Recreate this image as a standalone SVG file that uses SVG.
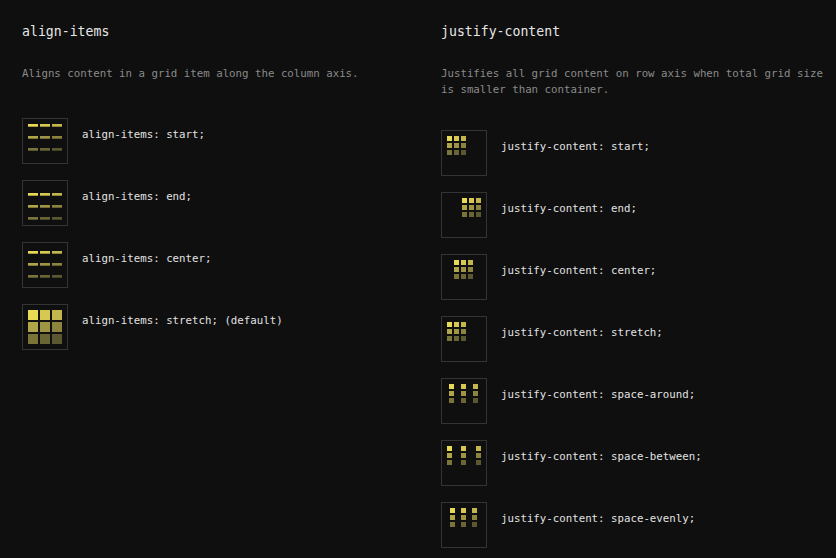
<svg xmlns="http://www.w3.org/2000/svg" width="836" height="558" viewBox="0 0 836 558">
<defs>
<style>
.bg{fill:#0f0f0f}
.box{fill:#0f0f0f;stroke:#343434;stroke-width:1}
.title{font-family:"DejaVu Sans Mono","Liberation Mono",monospace;font-size:13.2px;fill:#e6e6e6}
.desc{font-family:"DejaVu Sans Mono","Liberation Mono",monospace;font-size:10.75px;fill:#8a8a8a}
.lbl{font-family:"DejaVu Sans Mono","Liberation Mono",monospace;font-size:10.75px;fill:#e2e2e2}
.c1{fill:#e9da55}.c2{fill:#d6c851}.c3{fill:#c3b64c}
.c4{fill:#b0a547}.c5{fill:#9e9443}.c6{fill:#8b833e}
.c7{fill:#7a7439}.c8{fill:#6a6535}.c9{fill:#5b5731}
</style>
<g id="bars">
<rect class="c1" x="0" y="0" width="10" height="2.7"/><rect class="c2" x="12" y="0" width="10" height="2.7"/><rect class="c3" x="24" y="0" width="10" height="2.7"/>
<rect class="c4" x="0" y="12" width="10" height="2.7"/><rect class="c5" x="12" y="12" width="10" height="2.7"/><rect class="c6" x="24" y="12" width="10" height="2.7"/>
<rect class="c7" x="0" y="24" width="10" height="2.7"/><rect class="c8" x="12" y="24" width="10" height="2.7"/><rect class="c9" x="24" y="24" width="10" height="2.7"/>
</g>
<g id="col1">
<rect class="c1" x="0" y="0" width="5" height="5"/><rect class="c4" x="0" y="7" width="5" height="5"/><rect class="c7" x="0" y="14" width="5" height="5"/>
</g>
<g id="col2">
<rect class="c2" x="0" y="0" width="5" height="5"/><rect class="c5" x="0" y="7" width="5" height="5"/><rect class="c8" x="0" y="14" width="5" height="5"/>
</g>
<g id="col3">
<rect class="c3" x="0" y="0" width="5" height="5"/><rect class="c6" x="0" y="7" width="5" height="5"/><rect class="c9" x="0" y="14" width="5" height="5"/>
</g>
</defs>
<rect class="bg" x="0" y="0" width="836" height="558"/>

<g id="align-items-header">
<text class="title" x="22" y="36">align-items</text>
<text class="desc" x="22" y="77">Aligns content in a grid item along the column axis.</text>
</g>
<g id="justify-content-header">
<text class="title" x="441" y="36">justify-content</text>
<text class="desc" x="441" y="77">Justifies all grid content on row axis when total grid size</text>
<text class="desc" x="441" y="93">is smaller than container.</text>
</g>

<g id="ai-start">
<rect class="box" x="22.5" y="118.5" width="45" height="45"/>
<use href="#bars" x="28" y="124"/>
<text class="lbl" x="82" y="138">align-items: start;</text>
</g>
<g id="ai-end">
<rect class="box" x="22.5" y="180.5" width="45" height="45"/>
<use href="#bars" x="28" y="193"/>
<text class="lbl" x="82" y="200">align-items: end;</text>
</g>
<g id="ai-center">
<rect class="box" x="22.5" y="242.5" width="45" height="45"/>
<use href="#bars" x="28" y="251"/>
<text class="lbl" x="82" y="262">align-items: center;</text>
</g>
<g id="ai-stretch">
<rect class="box" x="22.5" y="304.5" width="45" height="45"/>
<rect class="c1" x="28" y="310" width="10" height="10"/><rect class="c2" x="40" y="310" width="10" height="10"/><rect class="c3" x="52" y="310" width="10" height="10"/>
<rect class="c4" x="28" y="322" width="10" height="10"/><rect class="c5" x="40" y="322" width="10" height="10"/><rect class="c6" x="52" y="322" width="10" height="10"/>
<rect class="c7" x="28" y="334" width="10" height="10"/><rect class="c8" x="40" y="334" width="10" height="10"/><rect class="c9" x="52" y="334" width="10" height="10"/>
<text class="lbl" x="82" y="324">align-items: stretch; (default)</text>
</g>

<g id="jc-start">
<rect class="box" x="441.5" y="130.5" width="45" height="45"/>
<use href="#col1" x="447" y="136"/><use href="#col2" x="454" y="136"/><use href="#col3" x="461" y="136"/>
<text class="lbl" x="501" y="150">justify-content: start;</text>
</g>
<g id="jc-end">
<rect class="box" x="441.5" y="192.5" width="45" height="45"/>
<use href="#col1" x="462" y="198"/><use href="#col2" x="469" y="198"/><use href="#col3" x="476" y="198"/>
<text class="lbl" x="501" y="212">justify-content: end;</text>
</g>
<g id="jc-center">
<rect class="box" x="441.5" y="254.5" width="45" height="45"/>
<use href="#col1" x="454" y="260"/><use href="#col2" x="461" y="260"/><use href="#col3" x="468" y="260"/>
<text class="lbl" x="501" y="274">justify-content: center;</text>
</g>
<g id="jc-stretch">
<rect class="box" x="441.5" y="316.5" width="45" height="45"/>
<use href="#col1" x="447" y="322"/><use href="#col2" x="454" y="322"/><use href="#col3" x="461" y="322"/>
<text class="lbl" x="501" y="336">justify-content: stretch;</text>
</g>
<g id="jc-space-around">
<rect class="box" x="441.5" y="378.5" width="45" height="45"/>
<use href="#col1" x="449" y="384"/><use href="#col2" x="461" y="384"/><use href="#col3" x="473" y="384"/>
<text class="lbl" x="501" y="398">justify-content: space-around;</text>
</g>
<g id="jc-space-between">
<rect class="box" x="441.5" y="440.5" width="45" height="45"/>
<use href="#col1" x="447" y="446"/><use href="#col2" x="461" y="446"/><use href="#col3" x="476" y="446"/>
<text class="lbl" x="501" y="460">justify-content: space-between;</text>
</g>
<g id="jc-space-evenly">
<rect class="box" x="441.5" y="502.5" width="45" height="45"/>
<use href="#col1" x="450" y="508"/><use href="#col2" x="461" y="508"/><use href="#col3" x="472" y="508"/>
<text class="lbl" x="501" y="522">justify-content: space-evenly;</text>
</g>
</svg>
